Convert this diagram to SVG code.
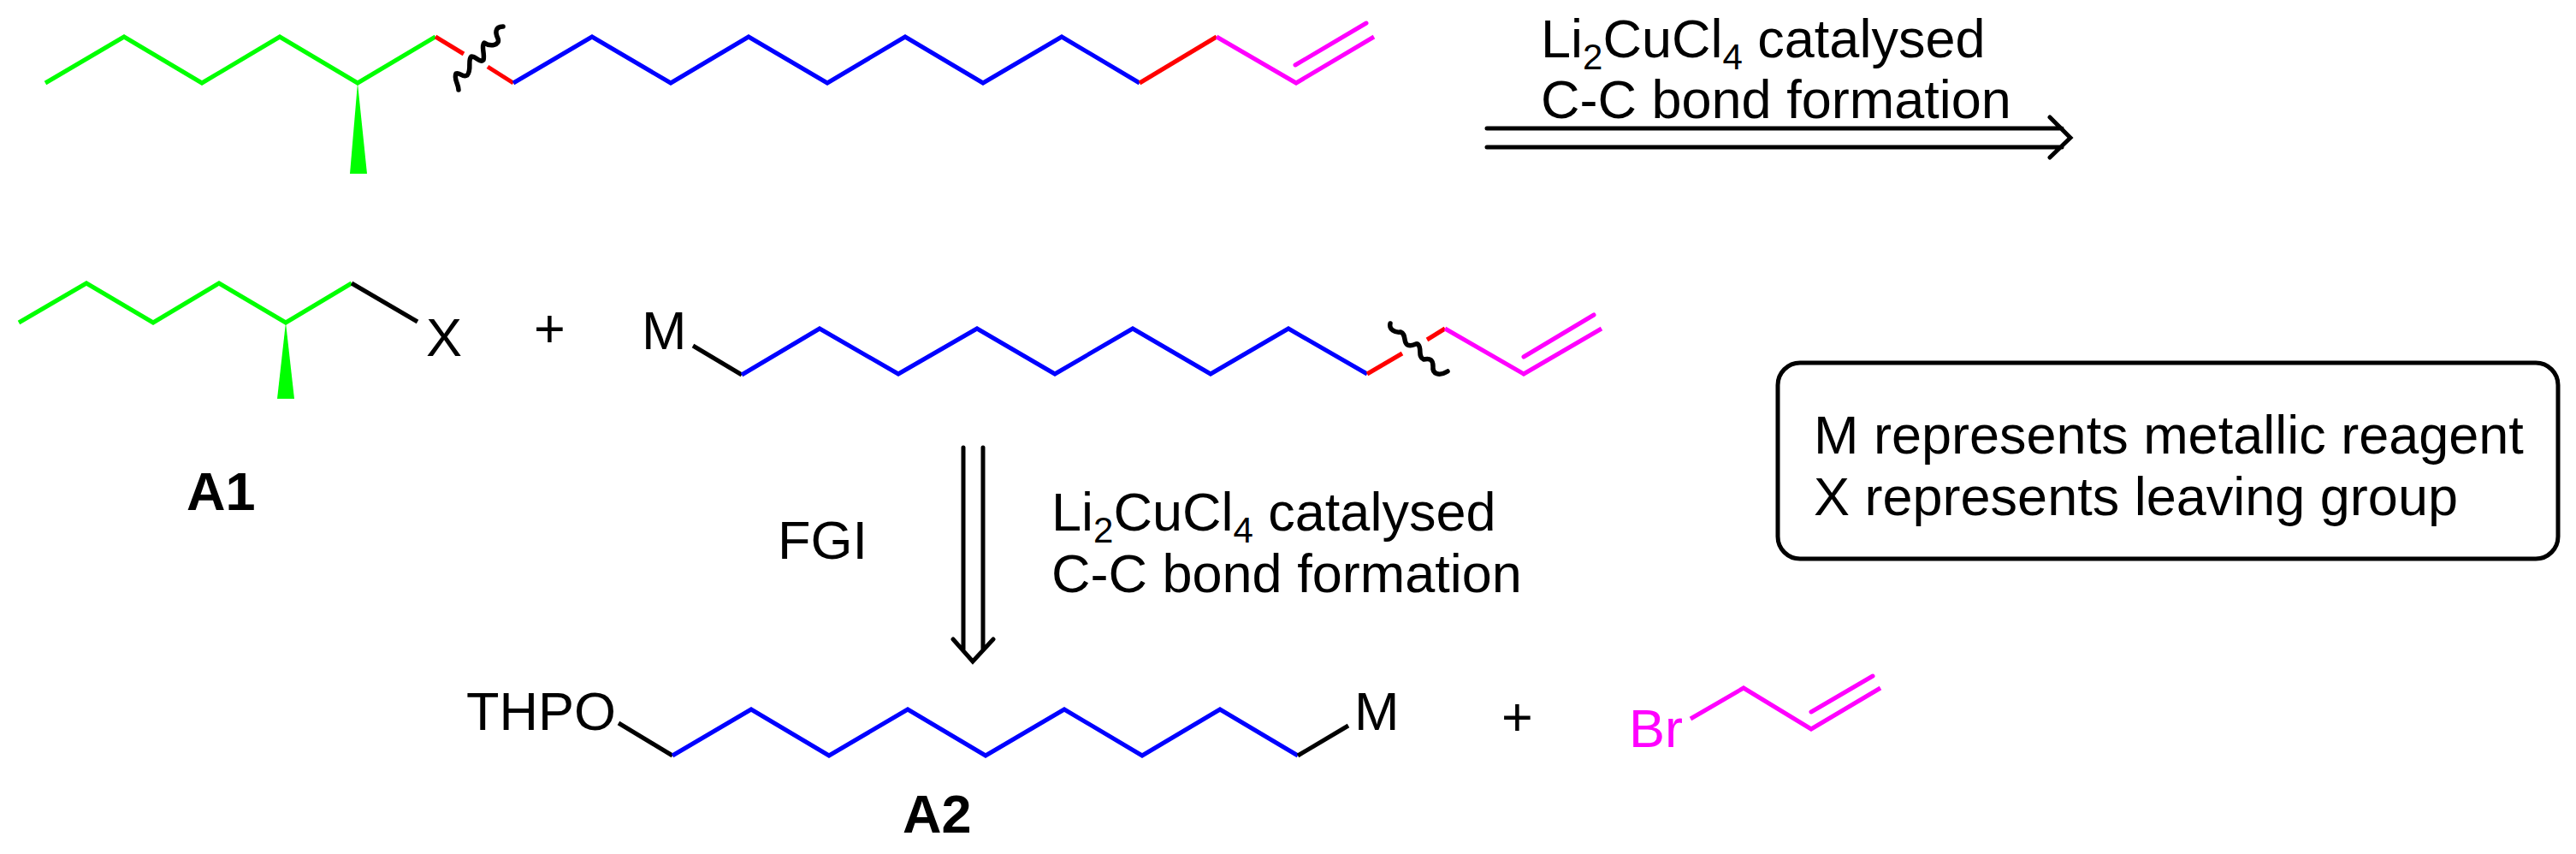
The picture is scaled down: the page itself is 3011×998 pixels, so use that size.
<svg xmlns="http://www.w3.org/2000/svg" width="3011" height="998" viewBox="0 0 3011 998">
<style>
text{font-family:"Liberation Sans",Arial,sans-serif;font-size:63px;fill:#000}
.b{font-weight:bold}
.l{fill:none;stroke-width:5;stroke-linejoin:miter;stroke-linecap:butt}
.g{stroke:#00ff00}.u{stroke:#0000ff}.r{stroke:#ff0000}.m{stroke:#ff00ff}.k{stroke:#000}
.dbl{stroke-linecap:round}
.sq{fill:none;stroke:#000;stroke-width:5.5;stroke-linecap:round;stroke-linejoin:round}
.w{fill:#00ff00}
.a{fill:none;stroke:#000;stroke-width:5;stroke-linecap:round}
.s{font-size:42px}
</style>
<rect width="3011" height="998" fill="#fff"/>
<g id="target-molecule">
<polyline class="l g" points="53,97 145,43 236,97 327,43 418,97 509,43"/>
<polygon class="w" points="418,97 409,203 429,203"/>
<polyline class="l r" points="509,43 542,63"/>
<path class="sq" d="M588 31C578 31 579 39 582 45C585 53 573 55 566 50C562 54 567 63 565 70C561 74 557 66 551 66C546 70 552 82 546 88C541 91 537 84 533 86C530 92 536 98 536 105"/>
<polyline class="l r" points="570,78 600,97"/>
<polyline class="l u" points="600,97 692,43 784,97 875,43 967,97 1058,43 1149,97 1241,43 1332,97"/>
<polyline class="l r" points="1332,97 1422,43"/>
<polyline class="l m" points="1422,43 1515,97 1606,43"/>
<line class="l m dbl" x1="1514" y1="76" x2="1597" y2="27"/>
</g>
<g id="reaction-label-top">
<text x="1801" y="67">Li<tspan class="s" dy="14">2</tspan><tspan dy="-14">CuCl</tspan><tspan class="s" dy="14">4</tspan><tspan dy="-14"> catalysed</tspan></text>
<text x="1801" y="138">C-C bond formation</text>
</g>
<g id="A1">
<polyline class="l g" points="22,377 101,331 179,377 256,331 334,377 411,331"/>
<polygon class="w" points="334,377 324,466 344,466"/>
<polyline class="l k" points="411,331 488,376"/>
<text x="498" y="416">X</text>
<text class="b" x="218" y="596">A1</text>
</g>
<g id="plus-1"><text x="624" y="406">+</text></g>
<g id="organometallic">
<text x="750" y="408">M</text>
<polyline class="l k" points="810,404 867,438"/>
<polyline class="l u" points="867,438 958,384 1050,437 1142,384 1233,437 1324,384 1415,437 1506,384 1598,437"/>
<polyline class="l r" points="1598,437 1639,413"/>
<path class="sq" d="M1625 378C1623 385 1631 389 1637 388C1644 390 1640 400 1645 403C1652 406 1656 399 1658 403C1662 408 1657 417 1664 420C1672 418 1675 421 1675 428C1674 437 1682 440 1692 434"/>
<polyline class="l r" points="1668,397 1689,384"/>
<polyline class="l m" points="1689,384 1781,437 1872,384"/>
<line class="l m dbl" x1="1781" y1="417" x2="1863" y2="368"/>
</g>
<g id="legend">
<rect x="2078" y="424" width="912" height="229" rx="26" ry="26" fill="none" stroke="#000" stroke-width="5"/>
<text x="2120" y="530">M represents metallic reagent</text>
<text x="2120" y="602">X represents leaving group</text>
</g>
<g id="label-FGI"><text x="909" y="653">FGI</text></g>
<g id="reaction-label-lower">
<text x="1229" y="620">Li<tspan class="s" dy="14">2</tspan><tspan dy="-14">CuCl</tspan><tspan class="s" dy="14">4</tspan><tspan dy="-14"> catalysed</tspan></text>
<text x="1229" y="692">C-C bond formation</text>
</g>
<g id="A2">
<text x="545" y="853">THPO</text>
<polyline class="l k" points="723,845 786,883"/>
<polyline class="l u" points="786,883 878,829 969,883 1061,829 1152,883 1244,829 1335,883 1426,829 1517,883"/>
<polyline class="l k" points="1517,883 1576,848"/>
<text x="1583" y="853">M</text>
<text class="b" x="1055" y="973">A2</text>
</g>
<g id="plus-2"><text x="1755" y="860">+</text></g>
<g id="allyl-bromide">
<text x="1904" y="873" style="fill:#ff00ff">Br</text>
<polyline class="l m" points="1976,840 2038,804 2117,852 2198,804"/>
<line class="l m dbl" x1="2117" y1="832" x2="2189" y2="790"/>
</g>
<g id="connectors">
<path id="retro-arrow-top" class="a" d="M1738 150H2410M1738 172H2410M2396 137L2420 161L2396 184"/>
<path id="retro-arrow-lower" class="a" d="M1126 523V759M1149 523V759M1114 747L1137 773L1161 747"/>
</g>
</svg>
